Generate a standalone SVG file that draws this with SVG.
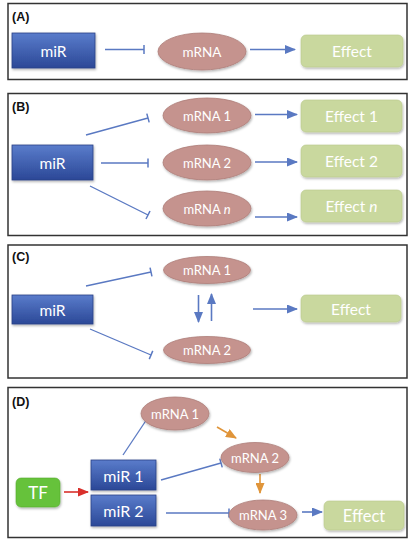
<svg xmlns="http://www.w3.org/2000/svg" width="413" height="545" viewBox="0 0 413 545">
<defs>
<linearGradient id="gBlue" x1="0" y1="0" x2="0" y2="1">
<stop offset="0" stop-color="#5a7ccb"/>
<stop offset="1" stop-color="#2b4897"/>
</linearGradient>
<filter id="sh" x="-20%" y="-20%" width="140%" height="150%">
<feDropShadow dx="0.8" dy="1.5" stdDeviation="1" flood-color="#000" flood-opacity="0.3"/>
</filter>
<marker id="arr" markerUnits="userSpaceOnUse" markerWidth="11" markerHeight="9" refX="10" refY="4.5" orient="auto">
<path d="M0,0 L11,4.5 L0,9 z" fill="#5a79c2"/>
</marker>
<marker id="arrR" markerUnits="userSpaceOnUse" markerWidth="11" markerHeight="9" refX="10" refY="4.5" orient="auto">
<path d="M0,0 L11,4.5 L0,9 z" fill="#d9302b"/>
</marker>
<marker id="arrO" markerUnits="userSpaceOnUse" markerWidth="11" markerHeight="9" refX="10" refY="4.5" orient="auto">
<path d="M0,0 L11,4.5 L0,9 z" fill="#e0953a"/>
</marker>
<marker id="bar" markerUnits="userSpaceOnUse" markerWidth="4" markerHeight="10" refX="2" refY="5" orient="auto">
<line x1="2" y1="0.5" x2="2" y2="9.5" stroke="#5a79c2" stroke-width="1.5"/>
</marker>
</defs>
<style>
.panel{fill:#fff;stroke:#333;stroke-width:1.5}
.plab{font-family:"Liberation Sans",sans-serif;font-weight:bold;font-size:12.5px;fill:#111}
.mir{fill:url(#gBlue);stroke:#2a4185;stroke-width:0.8;filter:url(#sh)}
.mrna{fill:#c5938e;stroke:#ad7e79;stroke-width:0.8;filter:url(#sh)}
.eff{fill:#c9d89e;stroke:#b8c98b;stroke-width:0.6;filter:url(#sh)}
.tf{fill:#66c23a;stroke:#58ad30;stroke-width:0.6;filter:url(#sh)}
.t{font-family:"Lato","Liberation Sans",sans-serif;fill:#fff;text-anchor:middle;dominant-baseline:central}
.big{font-size:15.5px}
.mid{font-size:16px}
.sm{font-size:13px}
.inh{stroke:#5a79c2;stroke-width:1.3;fill:none;marker-end:url(#bar)}
.act{stroke:#5a79c2;stroke-width:1.6;fill:none;marker-end:url(#arr)}
.red{stroke:#d9302b;stroke-width:1.6;fill:none;marker-end:url(#arrR)}
.ora{stroke:#e0953a;stroke-width:1.6;fill:none;marker-end:url(#arrO)}
</style>

<g id="panels">
<rect class="panel" x="8" y="3.5" width="399" height="76"/>
<rect class="panel" x="8" y="93.5" width="399" height="142"/>
<rect class="panel" x="8" y="245" width="399" height="133"/>
<rect class="panel" x="8" y="387.5" width="399" height="150"/>
<text class="plab" x="12" y="21">(A)</text>
<text class="plab" x="12" y="111">(B)</text>
<text class="plab" x="12" y="261">(C)</text>
<text class="plab" x="12" y="406">(D)</text>
</g>

<g id="connectors">
<line class="inh" x1="105" y1="49.5" x2="144" y2="49.5"/>
<line class="act" x1="250" y1="49.5" x2="295" y2="49.5"/>

<line class="inh" x1="86" y1="135" x2="148" y2="118"/>
<line class="inh" x1="101" y1="163" x2="148" y2="163"/>
<line class="inh" x1="90" y1="186" x2="148" y2="215"/>
<line class="act" x1="255" y1="114.5" x2="297" y2="114.5"/>
<line class="act" x1="255" y1="162" x2="297" y2="162"/>
<line class="act" x1="255" y1="217" x2="297" y2="217"/>

<line class="inh" x1="86" y1="286" x2="151" y2="272"/>
<line class="inh" x1="90" y1="329" x2="151" y2="355"/>
<line class="act" x1="198.5" y1="295" x2="198.5" y2="322"/>
<line class="act" x1="211.5" y1="321" x2="211.5" y2="294"/>
<line class="act" x1="253" y1="309" x2="297" y2="309"/>

<line class="red" x1="64" y1="492" x2="88" y2="492"/>
<line class="inh" x1="123" y1="455" x2="147" y2="419"/>
<line class="inh" x1="161" y1="480" x2="221" y2="463"/>
<line class="inh" x1="166" y1="513" x2="229" y2="513"/>
<line class="ora" x1="217" y1="427" x2="236" y2="438"/>
<line class="ora" x1="260" y1="474" x2="260" y2="493"/>
<line class="act" x1="302" y1="512" x2="322" y2="512"/>
</g>

<g id="A-miR"><rect class="mir" x="12" y="33" width="83" height="35"/><text class="t big" x="53.5" y="50.5">miR</text></g>
<g id="A-mRNA"><ellipse class="mrna" cx="202" cy="51.5" rx="44" ry="18.5"/><text class="t" font-size="13.5" x="202" y="52">mRNA</text></g>
<g id="A-Effect"><rect class="eff" x="301" y="35" width="102" height="32" rx="5"/><text class="t big" x="352" y="51">Effect</text></g>

<g id="B-miR"><rect class="mir" x="12" y="145" width="81" height="35"/><text class="t big" x="52.5" y="162.5">miR</text></g>
<g id="B-mRNA1"><ellipse class="mrna" cx="207" cy="115.5" rx="44" ry="17.5"/><text class="t sm" x="207" y="115.5">mRNA 1</text></g>
<g id="B-mRNA2"><ellipse class="mrna" cx="207" cy="162.5" rx="44" ry="17.5"/><text class="t sm" x="207" y="162.5">mRNA 2</text></g>
<g id="B-mRNAn"><ellipse class="mrna" cx="207" cy="208.5" rx="44" ry="17.5"/><text class="t sm" x="207" y="208.5">mRNA <tspan font-style="italic">n</tspan></text></g>
<g id="B-Effect1"><rect class="eff" x="301" y="100" width="101" height="32" rx="5"/><text class="t big" x="351.5" y="116">Effect 1</text></g>
<g id="B-Effect2"><rect class="eff" x="301" y="145" width="101" height="32" rx="5"/><text class="t big" x="351.5" y="161">Effect 2</text></g>
<g id="B-Effectn"><rect class="eff" x="301" y="190" width="101" height="32" rx="5"/><text class="t big" x="351.5" y="206">Effect <tspan font-style="italic">n</tspan></text></g>

<g id="C-miR"><rect class="mir" x="12" y="295" width="81" height="29"/><text class="t big" x="52.5" y="309.5">miR</text></g>
<g id="C-mRNA1"><ellipse class="mrna" cx="207" cy="270" rx="43.5" ry="13.5"/><text class="t sm" x="207" y="270">mRNA 1</text></g>
<g id="C-mRNA2"><ellipse class="mrna" cx="207" cy="350" rx="43.5" ry="13.5"/><text class="t sm" x="207" y="350">mRNA 2</text></g>
<g id="C-Effect"><rect class="eff" x="301" y="295" width="100" height="27" rx="5"/><text class="t big" x="351" y="308.5">Effect</text></g>

<g id="D-TF"><rect class="tf" x="16" y="478" width="44" height="29" rx="5"/><text class="t" font-size="17" x="38" y="492.5">TF</text></g>
<g id="D-miR1"><rect class="mir" x="91" y="460" width="65" height="30"/><text class="t mid" x="123.5" y="475">miR 1</text></g>
<g id="D-miR2"><rect class="mir" x="91" y="495" width="65" height="31"/><text class="t mid" x="123.5" y="510.5">miR 2</text></g>
<g id="D-mRNA1"><ellipse class="mrna" cx="175" cy="413.5" rx="34" ry="16.5"/><text class="t sm" x="175" y="413.5">mRNA 1</text></g>
<g id="D-mRNA2"><ellipse class="mrna" cx="255" cy="457.5" rx="34" ry="15"/><text class="t sm" x="255" y="457.5">mRNA 2</text></g>
<g id="D-mRNA3"><ellipse class="mrna" cx="263" cy="515" rx="34" ry="15"/><text class="t sm" x="263" y="515">mRNA 3</text></g>
<g id="D-Effect"><rect class="eff" x="324" y="501" width="80" height="29" rx="5"/><text class="t" font-size="16.5" x="364" y="515.5">Effect</text></g>
</svg>
